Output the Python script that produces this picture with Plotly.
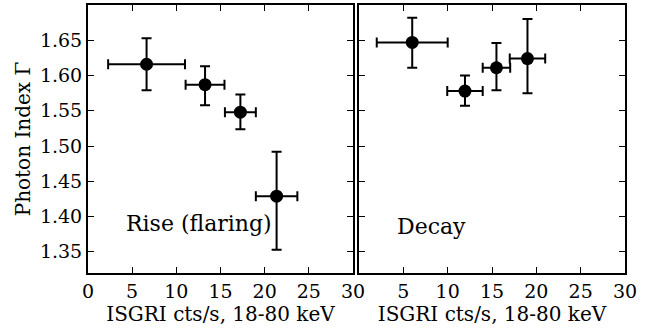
import plotly.graph_objects as go

# Rise (flaring) panel
rise_x = [6.63, 13.25, 17.25, 21.35]
rise_xerr = [4.35, 2.2, 1.75, 2.35]
rise_y = [1.616, 1.587, 1.548, 1.429]
rise_yerr_plus = [0.037, 0.026, 0.025, 0.063]
rise_yerr_minus = [0.037, 0.029, 0.024, 0.076]

# Decay panel
decay_x = [6.0, 11.95, 15.5, 19.0]
decay_xerr = [4.0, 2.0, 1.55, 2.0]
decay_y = [1.647, 1.578, 1.611, 1.624]
decay_yerr_plus = [0.035, 0.022, 0.035, 0.056]
decay_yerr_minus = [0.036, 0.021, 0.032, 0.049]

y_ticks = [1.35, 1.40, 1.45, 1.50, 1.55, 1.60, 1.65]
x_ticks = [0, 5, 10, 15, 20, 25, 30]
x_ticklabels_left = ["0", "5", "10", "15", "20", "25", "30"]
x_ticklabels_right = ["", "5", "10", "15", "20", "25", "30"]

FONT = "DejaVu Serif"

fig = go.Figure()

def add_panel(x, xerr, y, yp, ym, xa, ya):
    fig.add_trace(go.Scatter(
        x=x, y=y, mode="markers", xaxis=xa, yaxis=ya,
        marker=dict(color="black", size=13),
        error_x=dict(type="data", array=xerr, color="black", thickness=2, width=5),
        error_y=dict(type="data", symmetric=False, array=yp, arrayminus=ym,
                     color="black", thickness=2, width=5),
        showlegend=False,
    ))

add_panel(rise_x, rise_xerr, rise_y, rise_yerr_plus, rise_yerr_minus, "x", "y")
add_panel(decay_x, decay_xerr, decay_y, decay_yerr_plus, decay_yerr_minus, "x2", "y2")

axis_common = dict(
    showline=True, linecolor="black", linewidth=2, mirror="ticks",
    ticks="inside", ticklen=6, tickwidth=1.3, tickcolor="black",
    showgrid=False, zeroline=False,
    tickfont=dict(family=FONT, size=19, color="black"),
)

xtitle = dict(text="ISGRI cts/s, 18-80 keV", font=dict(family=FONT, size=20, color="black"), standoff=4)

fig.update_layout(
    width=659, height=335,
    margin=dict(l=88, r=34, t=3, b=62),
    plot_bgcolor="white", paper_bgcolor="white",
    font=dict(family=FONT, color="black"),
    xaxis=dict(domain=[0, 0.4935], range=[0, 30], tickvals=x_ticks, ticktext=x_ticklabels_left,
               title=xtitle, **axis_common),
    xaxis2=dict(domain=[0.5047, 1], range=[0, 30], tickvals=x_ticks, ticktext=x_ticklabels_right,
                anchor="y2", title=xtitle, **axis_common),
    yaxis=dict(range=[1.32, 1.70], tickvals=y_ticks, tickformat=".2f",
               title=dict(text="Photon Index Γ", font=dict(family=FONT, size=20, color="black"), standoff=4),
               **axis_common),
    yaxis2=dict(range=[1.32, 1.70], tickvals=y_ticks, anchor="x2", showticklabels=False, **axis_common),
    annotations=[
        dict(text="Rise (flaring)", x=4.07, y=1.3906, xref="x", yref="y", xanchor="left", yanchor="middle",
             showarrow=False, font=dict(family=FONT, size=22, color="black")),
        dict(text="Decay", x=4.06, y=1.3854, xref="x2", yref="y2", xanchor="left", yanchor="middle",
             showarrow=False, font=dict(family=FONT, size=22, color="black")),
    ],
)

fig.write_html("out.html")
